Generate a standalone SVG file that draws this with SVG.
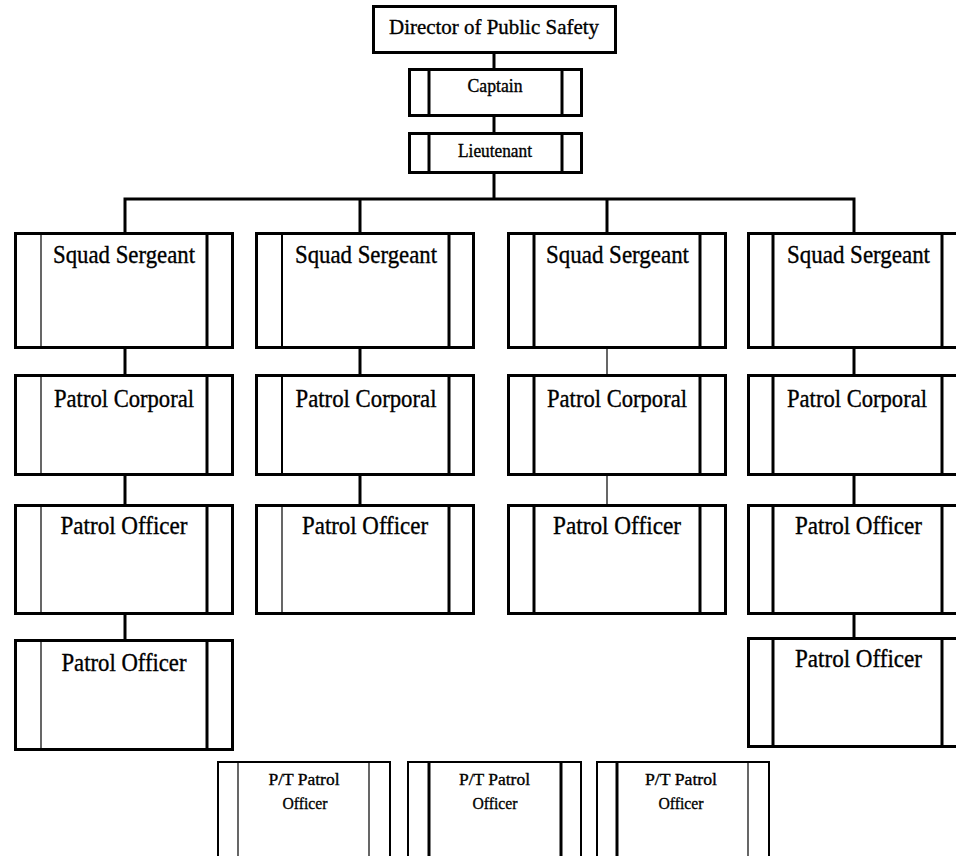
<svg xmlns="http://www.w3.org/2000/svg" width="956" height="856" viewBox="0 0 956 856">
<style>
.box{fill:#fff;stroke:#000;stroke-width:3}
.pt{fill:#fff;stroke:#000;stroke-width:2}
.in3{stroke:#000;stroke-width:3}
.in2{stroke:#000;stroke-width:2}
.in1{stroke:#000;stroke-width:1.2}
.c3{stroke:#000;stroke-width:3;fill:none}
.c1{stroke:#000;stroke-width:1.2;fill:none}
text{font-family:"Liberation Serif","Times New Roman",serif;fill:#000;text-anchor:middle;stroke:#000;stroke-width:0.35}
.t{font-size:25px}
.s{font-size:18px}
.p{font-size:17px}
</style>
<rect width="956" height="856" fill="#fff"/>
<g id="connectors">
<line class="c3" x1="494" y1="54" x2="494" y2="68"/>
<line class="c3" x1="494" y1="117" x2="494" y2="132"/>
<polyline class="c3" points="494,174 494,199"/>
<polyline class="c3" points="125,232 125,199 854,199 854,232"/>
<line class="c3" x1="360" y1="199" x2="360" y2="232"/>
<line class="c3" x1="607" y1="199" x2="607" y2="232"/>
<line class="c3" x1="125" y1="349" x2="125" y2="374"/>
<line class="c3" x1="125" y1="476" x2="125" y2="504"/>
<line class="c3" x1="125" y1="615" x2="125" y2="639"/>
<line class="c3" x1="360" y1="349" x2="360" y2="374"/>
<line class="c3" x1="360" y1="476" x2="360" y2="504"/>
<line class="c1" x1="607" y1="349" x2="607" y2="374"/>
<line class="c1" x1="607" y1="476" x2="607" y2="504"/>
<line class="c3" x1="854" y1="349" x2="854" y2="374"/>
<line class="c3" x1="854" y1="476" x2="854" y2="504"/>
<line class="c3" x1="854" y1="615" x2="854" y2="637"/>
</g>
<g id="director">
<rect class="box" x="373.5" y="6.5" width="242" height="46"/>
<text class="t" style="font-size:21px" x="494" y="34" textLength="210" lengthAdjust="spacingAndGlyphs">Director of Public Safety</text>
</g>
<g id="captain">
<rect class="box" x="409.5" y="69.5" width="172" height="46"/>
<line class="in3" x1="429" y1="69.5" x2="429" y2="115.5"/>
<line class="in3" x1="562" y1="69.5" x2="562" y2="115.5"/>
<text class="s" x="495" y="92" textLength="55" lengthAdjust="spacingAndGlyphs">Captain</text>
</g>
<g id="lieutenant">
<rect class="box" x="409.5" y="133.5" width="172" height="39"/>
<line class="in3" x1="429" y1="133.5" x2="429" y2="172.5"/>
<line class="in3" x1="562" y1="133.5" x2="562" y2="172.5"/>
<text class="s" x="495" y="157" textLength="74" lengthAdjust="spacingAndGlyphs">Lieutenant</text>
</g>
<!-- Column 1 -->
<g id="sgt1">
<rect class="box" x="15.5" y="233.5" width="217" height="114"/>
<line class="in1" x1="41" y1="233.5" x2="41" y2="347.5"/>
<line class="in3" x1="207" y1="233.5" x2="207" y2="347.5"/>
<text class="t" x="124" y="263" textLength="142" lengthAdjust="spacingAndGlyphs">Squad Sergeant</text>
</g>
<g id="cpl1">
<rect class="box" x="15.5" y="375.5" width="217" height="99"/>
<line class="in1" x1="41" y1="375.5" x2="41" y2="474.5"/>
<line class="in3" x1="207" y1="375.5" x2="207" y2="474.5"/>
<text class="t" x="124" y="407" textLength="140" lengthAdjust="spacingAndGlyphs">Patrol Corporal</text>
</g>
<g id="off1a">
<rect class="box" x="15.5" y="505.5" width="217" height="108"/>
<line class="in1" x1="41" y1="505.5" x2="41" y2="613.5"/>
<line class="in3" x1="207" y1="505.5" x2="207" y2="613.5"/>
<text class="t" x="124" y="534" textLength="127" lengthAdjust="spacingAndGlyphs">Patrol Officer</text>
</g>
<g id="off1b">
<rect class="box" x="15.5" y="640.5" width="217" height="109"/>
<line class="in1" x1="41" y1="640.5" x2="41" y2="749.5"/>
<line class="in3" x1="207" y1="640.5" x2="207" y2="749.5"/>
<text class="t" x="124" y="671" textLength="125" lengthAdjust="spacingAndGlyphs">Patrol Officer</text>
</g>
<!-- Column 2 -->
<g id="sgt2">
<rect class="box" x="256.5" y="233.5" width="217" height="114"/>
<line class="in2" x1="282" y1="233.5" x2="282" y2="347.5"/>
<line class="in3" x1="449" y1="233.5" x2="449" y2="347.5"/>
<text class="t" x="366" y="263" textLength="142" lengthAdjust="spacingAndGlyphs">Squad Sergeant</text>
</g>
<g id="cpl2">
<rect class="box" x="256.5" y="375.5" width="217" height="99"/>
<line class="in2" x1="282" y1="375.5" x2="282" y2="474.5"/>
<line class="in3" x1="449" y1="375.5" x2="449" y2="474.5"/>
<text class="t" x="366" y="407" textLength="141" lengthAdjust="spacingAndGlyphs">Patrol Corporal</text>
</g>
<g id="off2">
<rect class="box" x="256.5" y="505.5" width="217" height="108"/>
<line class="in1" x1="282" y1="505.5" x2="282" y2="613.5"/>
<line class="in3" x1="449" y1="505.5" x2="449" y2="613.5"/>
<text class="t" x="365" y="534" textLength="126" lengthAdjust="spacingAndGlyphs">Patrol Officer</text>
</g>
<!-- Column 3 -->
<g id="sgt3">
<rect class="box" x="508.5" y="233.5" width="217" height="114"/>
<line class="in3" x1="534" y1="233.5" x2="534" y2="347.5"/>
<line class="in3" x1="700" y1="233.5" x2="700" y2="347.5"/>
<text class="t" x="617.5" y="263" textLength="143" lengthAdjust="spacingAndGlyphs">Squad Sergeant</text>
</g>
<g id="cpl3">
<rect class="box" x="508.5" y="375.5" width="217" height="99"/>
<line class="in3" x1="534" y1="375.5" x2="534" y2="474.5"/>
<line class="in3" x1="700" y1="375.5" x2="700" y2="474.5"/>
<text class="t" x="617" y="407" textLength="140" lengthAdjust="spacingAndGlyphs">Patrol Corporal</text>
</g>
<g id="off3">
<rect class="box" x="508.5" y="505.5" width="217" height="108"/>
<line class="in3" x1="534" y1="505.5" x2="534" y2="613.5"/>
<line class="in3" x1="700" y1="505.5" x2="700" y2="613.5"/>
<text class="t" x="617" y="534" textLength="128" lengthAdjust="spacingAndGlyphs">Patrol Officer</text>
</g>
<!-- Column 4 -->
<g id="sgt4">
<rect class="box" x="748.5" y="233.5" width="217" height="114"/>
<line class="in3" x1="773" y1="233.5" x2="773" y2="347.5"/>
<line class="in3" x1="942" y1="233.5" x2="942" y2="347.5"/>
<text class="t" x="858.5" y="263" textLength="143" lengthAdjust="spacingAndGlyphs">Squad Sergeant</text>
</g>
<g id="cpl4">
<rect class="box" x="748.5" y="375.5" width="217" height="99"/>
<line class="in3" x1="773" y1="375.5" x2="773" y2="474.5"/>
<line class="in3" x1="942" y1="375.5" x2="942" y2="474.5"/>
<text class="t" x="857" y="407" textLength="140" lengthAdjust="spacingAndGlyphs">Patrol Corporal</text>
</g>
<g id="off4a">
<rect class="box" x="748.5" y="505.5" width="217" height="108"/>
<line class="in3" x1="773" y1="505.5" x2="773" y2="613.5"/>
<line class="in3" x1="942" y1="505.5" x2="942" y2="613.5"/>
<text class="t" x="858.5" y="534" textLength="127" lengthAdjust="spacingAndGlyphs">Patrol Officer</text>
</g>
<g id="off4b">
<rect class="box" x="748.5" y="638.5" width="217" height="108"/>
<line class="in3" x1="773" y1="638.5" x2="773" y2="746.5"/>
<line class="in3" x1="942" y1="638.5" x2="942" y2="746.5"/>
<text class="t" x="858.5" y="667" textLength="127" lengthAdjust="spacingAndGlyphs">Patrol Officer</text>
</g>
<!-- Part-time officers -->
<g id="pt1">
<rect class="pt" x="218" y="762" width="172" height="110"/>
<line class="in1" x1="238" y1="762" x2="238" y2="872"/>
<line class="in1" x1="369" y1="762" x2="369" y2="872"/>
<text class="p" x="304" y="785" textLength="71" lengthAdjust="spacingAndGlyphs">P/T Patrol</text>
<text class="p" x="305" y="809" textLength="45" lengthAdjust="spacingAndGlyphs">Officer</text>
</g>
<g id="pt2">
<rect class="pt" x="408" y="762" width="173" height="110"/>
<line class="in3" x1="429" y1="762" x2="429" y2="872"/>
<line class="in3" x1="561" y1="762" x2="561" y2="872"/>
<text class="p" x="494.5" y="785" textLength="71" lengthAdjust="spacingAndGlyphs">P/T Patrol</text>
<text class="p" x="495" y="809" textLength="45" lengthAdjust="spacingAndGlyphs">Officer</text>
</g>
<g id="pt3">
<rect class="pt" x="597" y="762" width="172" height="110"/>
<line class="in3" x1="617" y1="762" x2="617" y2="872"/>
<line class="in1" x1="748" y1="762" x2="748" y2="872"/>
<text class="p" x="681" y="785" textLength="72" lengthAdjust="spacingAndGlyphs">P/T Patrol</text>
<text class="p" x="681" y="809" textLength="45" lengthAdjust="spacingAndGlyphs">Officer</text>
</g>
</svg>
